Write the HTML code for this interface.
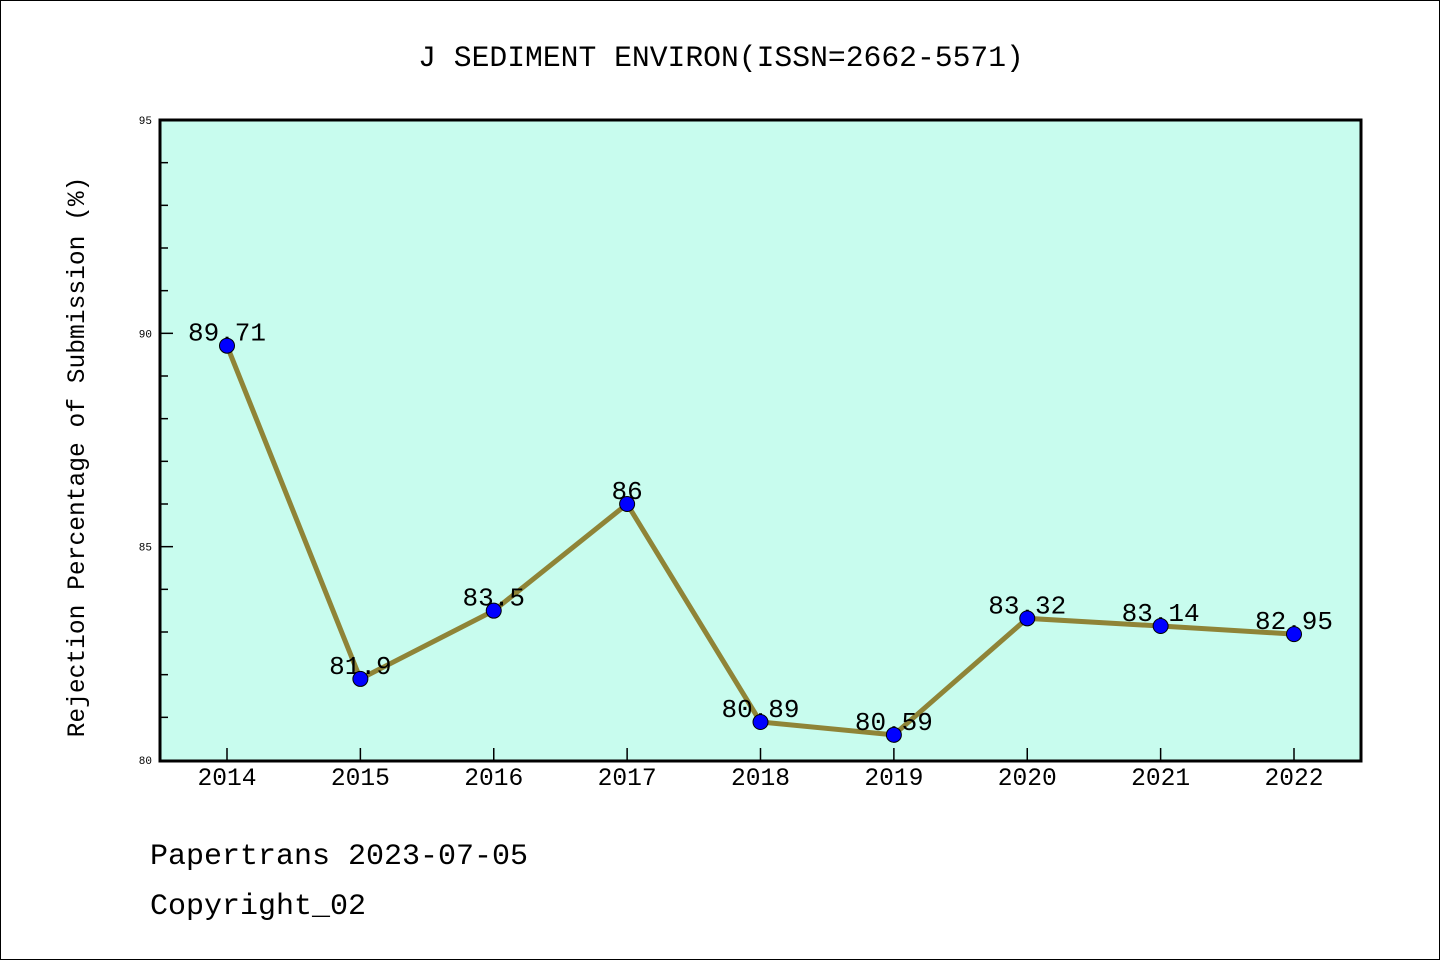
<!DOCTYPE html>
<html><head><meta charset="utf-8"><style>
body{margin:0;background:#fff}
svg{display:block;font-family:"Liberation Mono","WenQuanYi Zen Hei",monospace}
</style></head><body>
<svg width="1440" height="960">
<rect x="0.5" y="0.5" width="1439" height="959" fill="#fff" stroke="#000"/>
<text x="721" y="66" font-size="29.7" text-anchor="middle">J SEDIMENT ENVIRON(ISSN=2662-5571)</text>
<rect x="160" y="120" width="1201" height="641" fill="#c8fcee"/>
<g id="axes"></g>
<g id="marks"></g>
<rect x="160" y="120" width="1201" height="641" fill="none" stroke="#000" stroke-width="3"/>
<text transform="translate(84,457) rotate(-90)" font-size="24.6" text-anchor="middle">Rejection Percentage of Submission (%)</text>
<text x="150" y="864" font-size="30">Papertrans 2023-07-05</text>
<text x="150" y="914" font-size="30">Copyright_02</text>
</svg>
<script>
const years=["2014","2015","2016","2017","2018","2019","2020","2021","2022"];
const values=[89.71,81.9,83.5,86,80.89,80.59,83.32,83.14,82.95];
const valueLabels=["89.71","81.9","83.5","86","80.89","80.59","83.32","83.14","82.95"];
const yTicks=[80,85,90,95];
const NS="http://www.w3.org/2000/svg";
function xs(i){return 227+i*(1294-227)/(years.length-1);}
function ys(v){return 760-(v-80)*(640/15);}
function mk(t,a,p){const e=document.createElementNS(NS,t);for(const k in a)e.setAttribute(k,a[k]);p.appendChild(e);return e;}
const ax=document.getElementById('axes'),mg=document.getElementById('marks');
for(let v=81;v<95;v++){
 const major=v%5===0;
 const t=mk('line',{x1:160,x2:major?173:168,y1:ys(v),y2:ys(v),stroke:'#000','stroke-width':1.5},ax);
 
 
}
yTicks.forEach(v=>{
 const t=mk('text',{x:152,y:ys(v)+4,'font-size':11,'text-anchor':'end'},ax);t.textContent=v;
 
 
});
years.forEach((y,i)=>{
 const t=mk('line',{x1:xs(i),x2:xs(i),y1:761,y2:748,stroke:'#000','stroke-width':1.5},ax);
 
 
 const l=mk('text',{x:xs(i),y:785,'font-size':24.6,'text-anchor':'middle'},ax);l.textContent=y;
 
 
});
const pl=mk('polyline',{points:values.map((v,i)=>xs(i)+','+ys(v)).join(' '),fill:'none',stroke:'#8f8437','stroke-width':5},mg);


values.forEach((v,i)=>{
 const l=mk('text',{x:xs(i),y:ys(v)-5,'font-size':26,'text-anchor':'middle'},mg);l.textContent=valueLabels[i];
 
 
});
values.forEach((v,i)=>{
 const c=mk('circle',{cx:xs(i),cy:ys(v),r:7.5,fill:'#0000ff',stroke:'#000','stroke-width':1},mg);
 
 
});
</script>
</body></html>
